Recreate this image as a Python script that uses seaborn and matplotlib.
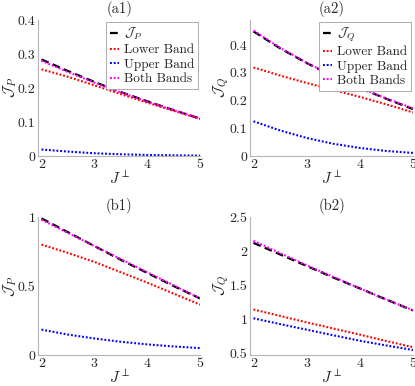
import numpy as np
import pandas as pd
import matplotlib
matplotlib.use("Agg")
import matplotlib.pyplot as plt
import seaborn as sns

sns.set_style("white")
plt.rcParams["font.family"] = ["cmr10", "DejaVu Serif"]
plt.rcParams["mathtext.fontset"] = "cm"
plt.rcParams["axes.formatter.use_mathtext"] = True
plt.rcParams["axes.unicode_minus"] = False

# ---- datos ----
j_perp = [2.0, 2.5, 3.0, 3.5, 4.0, 4.5, 5.0]

# (a1) J_P
a1_total = [0.284, 0.250, 0.218, 0.188, 0.161, 0.135, 0.110]
a1_lower = [0.255, 0.233, 0.208, 0.182, 0.157, 0.133, 0.109]
a1_upper = [0.019, 0.013, 0.008, 0.005, 0.003, 0.002, 0.001]
a1_both = [0.280, 0.247, 0.216, 0.187, 0.160, 0.135, 0.110]

# (a2) J_Q
a2_total = [0.449, 0.388, 0.335, 0.287, 0.245, 0.206, 0.169]
a2_lower = [0.319, 0.290, 0.263, 0.238, 0.213, 0.186, 0.157]
a2_upper = [0.125, 0.092, 0.065, 0.044, 0.029, 0.018, 0.011]
a2_both = [0.452, 0.390, 0.336, 0.288, 0.246, 0.207, 0.172]

# (b1) J_P
b1_total = [0.99, 0.89, 0.79, 0.69, 0.595, 0.50, 0.41]
b1_lower = [0.80, 0.74, 0.675, 0.60, 0.525, 0.445, 0.365]
b1_upper = [0.184, 0.148, 0.120, 0.096, 0.077, 0.062, 0.050]
b1_both = [0.98, 0.885, 0.79, 0.695, 0.60, 0.505, 0.41]

# (b2) J_Q
b2_total = [2.12, 1.95, 1.78, 1.61, 1.45, 1.285, 1.125]
b2_lower = [1.14, 1.045, 0.95, 0.86, 0.77, 0.675, 0.585]
b2_upper = [1.01, 0.925, 0.843, 0.76, 0.68, 0.61, 0.544]
b2_both = [2.15, 1.97, 1.79, 1.62, 1.45, 1.285, 1.13]

panels = [
    ("(a1)", r"$\mathcal{J}_P$", a1_total, a1_lower, a1_upper, a1_both, (0, 0.4), [0, 0.1, 0.2, 0.3, 0.4], True),
    ("(a2)", r"$\mathcal{J}_Q$", a2_total, a2_lower, a2_upper, a2_both, (0, 0.49), [0, 0.1, 0.2, 0.3, 0.4], True),
    ("(b1)", r"$\mathcal{J}_P$", b1_total, b1_lower, b1_upper, b1_both, (0, 1.0), [0, 0.5, 1], False),
    ("(b2)", r"$\mathcal{J}_Q$", b2_total, b2_lower, b2_upper, b2_both, (0.47, 2.5), [0.5, 1, 1.5, 2, 2.5], False),
]

# posiciones de los ejes en fraccion de figura
positions = [
    [0.0923, 0.5959, 0.3896, 0.3523],
    [0.6031, 0.5959, 0.3920, 0.3523],
    [0.0923, 0.0803, 0.3896, 0.3575],
    [0.6031, 0.0803, 0.3920, 0.3575],
]

dots = (0, (0.9, 0.9))

fig = plt.figure(figsize=(4.15, 3.86), dpi=100)

for (title, ylab, tot, low, up, both, ylim, yticks, show_leg), pos in zip(panels, positions):
    ax = fig.add_axes(pos)
    df = pd.DataFrame({"J": j_perp, "tot": tot, "low": low, "up": up, "both": both})
    sns.lineplot(data=df, x="J", y="tot", ax=ax, color="black", lw=1.6,
                 linestyle=(0, (3.5, 2.0)), label=ylab)
    sns.lineplot(data=df, x="J", y="low", ax=ax, color="red", lw=1.5,
                 linestyle=dots, label="Lower Band")
    sns.lineplot(data=df, x="J", y="up", ax=ax, color="blue", lw=1.5,
                 linestyle=dots, label="Upper Band")
    sns.lineplot(data=df, x="J", y="both", ax=ax, color="magenta", lw=1.5,
                 linestyle=dots, label="Both Bands")

    ax.set_xlim(1.94, 5)
    ax.set_ylim(*ylim)
    ax.set_xticks([2, 3, 4, 5])
    ax.set_yticks(yticks)
    ax.set_xticklabels(["2", "3", "4", "5"])
    ax.set_yticklabels([f"{v:g}" for v in yticks])
    ax.set_title(title, fontsize=10.5, pad=5, color="#262626")
    ax.set_xlabel(r"$J^{\perp}$", fontsize=11, labelpad=-1, color="#262626")
    ax.set_ylabel(ylab, fontsize=11, labelpad=-1, color="#262626")

    for s in ["top", "right"]:
        ax.spines[s].set_visible(False)
    for s in ["left", "bottom"]:
        ax.spines[s].set_color("#b5b5b5")
        ax.spines[s].set_linewidth(0.8)
    ax.tick_params(direction="in", length=3, width=0.6, color="#b5b5b5",
                   labelsize=10, labelcolor="#262626", pad=2)

    if show_leg:
        leg = ax.legend(loc="upper right", fontsize=9.5, handlelength=0.7,
                        handletextpad=0.35, borderpad=0.3, labelspacing=0.15,
                        borderaxespad=0.15, frameon=True, fancybox=False,
                        framealpha=1.0, edgecolor="#a0a0a0")
        leg.get_frame().set_linewidth(0.6)
    else:
        ax.get_legend().remove()

fig.savefig("out.png", dpi=100)
